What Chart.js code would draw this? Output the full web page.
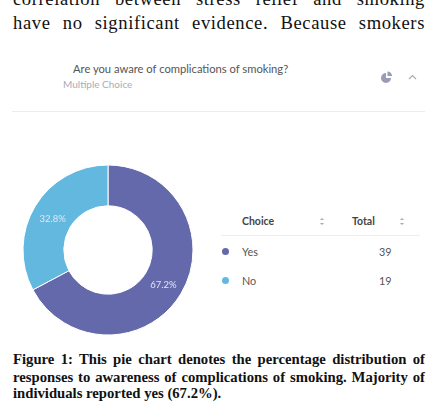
<!DOCTYPE html>
<html>
<head>
<meta charset="utf-8">
<script src="https://cdn.jsdelivr.net/npm/chart.js@4"></script>
<style>
html, body { margin: 0; padding: 0; background: #fff; overflow: hidden; }
body { position: relative; width: 448px; height: 413px; }
.t { position: absolute; white-space: nowrap; }
.just { left: 13px; width: 412px; white-space: normal; text-align: justify; text-align-last: justify; }
.body { font: 18.6px/20px "Liberation Serif", serif; letter-spacing: 0.6px; color: #111; }
.cap { font: bold 14.7px/17px "Liberation Serif", serif; color: #111; }
.lato { font-family: Lato, sans-serif; }
.rule { position: absolute; height: 1px; }
.dot { position: absolute; width: 7px; height: 7px; border-radius: 50%; }
#wrap { position: absolute; left: 8px; top: 150px; width: 200px; height: 200px; }
</style>
</head>
<body>
<div class="t just body" style="top:-11px">correlation between stress relief and smoking</div>
<div class="t just body" style="top:13px">have no significant evidence. Because smokers</div>

<div class="t lato" style="left:73px;top:62px;font-size:11.2px;color:#555">Are you aware of complications of smoking?</div>
<div class="t lato" style="left:63px;top:78px;font-size:10px;color:#aab">Multiple Choice</div>
<svg class="t" style="left:380px;top:70px" width="40" height="14">
  <path d="M6 3 A5 5 0 1 0 11 8 L6 8 Z" fill="#9a9bb5"/>
  <path d="M7.5 1.5 L7.5 6 L12 6 A4.5 4.5 0 0 0 7.5 1.5 Z" fill="#9a9bb5"/>
  <path d="M29 9 L32.5 5.5 L36 9" fill="none" stroke="#aaaabb" stroke-width="1.2"/>
</svg>
<div class="rule" style="left:12px;width:413px;top:111px;background:#ececec"></div>

<div id="wrap"><canvas id="donut" width="200" height="200"></canvas></div>

<div class="t lato" style="left:242px;top:215px;font-size:10.5px;font-weight:700;color:#444">Choice</div>
<div class="t lato" style="left:352px;top:215px;font-size:10.5px;font-weight:700;color:#444">Total</div>
<svg class="t" style="left:320px;top:217px" width="88" height="10">
  <path d="M2 1 L4 3 L0 3 Z M0 6 L4 6 L2 8 Z" fill="#aaa"/>
  <path d="M82 1 L84 3 L80 3 Z M80 6 L84 6 L82 8 Z" fill="#aaa"/>
</svg>
<div class="rule" style="left:221px;width:199px;top:235px;background:#eeeeee"></div>
<div id="rows"></div>

<div class="t just cap" style="top:351px">Figure 1: This pie chart denotes the percentage distribution of</div>
<div class="t just cap" style="top:369px">responses to awareness of complications of smoking. Majority of</div>
<div class="t cap" style="left:13px;top:385px">individuals reported yes (67.2%).</div>

<script>
const choices = ['Yes', 'No'];
const totals = [39, 19];
const percents = ['67.2%', '32.8%'];
const colors = ['#6369ab', '#62b8df'];
const rowTops = [246, 275];

// table rows on the right
const rows = document.getElementById('rows');
choices.forEach((c, i) => {
    rows.insertAdjacentHTML('beforeend',
        `<div class="dot" style="left:222px;top:${rowTops[i] + 2}px;background:${colors[i]}"></div>` +
        `<div class="t lato" style="left:242px;top:${rowTops[i] - 1}px;font-size:10.8px;color:#555">${c}</div>` +
        `<div class="t lato" style="left:379px;top:${rowTops[i] - 1}px;font-size:10.8px;color:#555">${totals[i]}</div>`);
});

// percent labels inside the slices
const sliceLabels = {
    id: 'sliceLabels',
    afterDatasetsDraw(chart) {
        const c = chart.ctx;
        c.save();
        c.font = '9.5px Lato, sans-serif';
        c.fillStyle = '#dfe8f2';
        c.textAlign = 'center';
        c.textBaseline = 'middle';
        chart.getDatasetMeta(0).data.forEach((arc, i) => {
            const p = arc.getCenterPoint();
            c.fillText(percents[i], p.x, p.y + 2);
        });
        c.restore();
    }
};

new Chart(document.getElementById('donut'), {
    type: 'doughnut',
    data: {
        labels: choices,
        datasets: [{
            data: totals,
            backgroundColor: colors,
            borderColor: '#fff',
            borderWidth: 1
        }]
    },
    options: {
        responsive: false,
        animation: false,
        cutout: '52%',
        radius: 85,
        layout: { padding: 0 },
        plugins: {
            legend: { display: false },
            tooltip: { enabled: false }
        }
    },
    plugins: [sliceLabels]
});
</script>
</body>
</html>
